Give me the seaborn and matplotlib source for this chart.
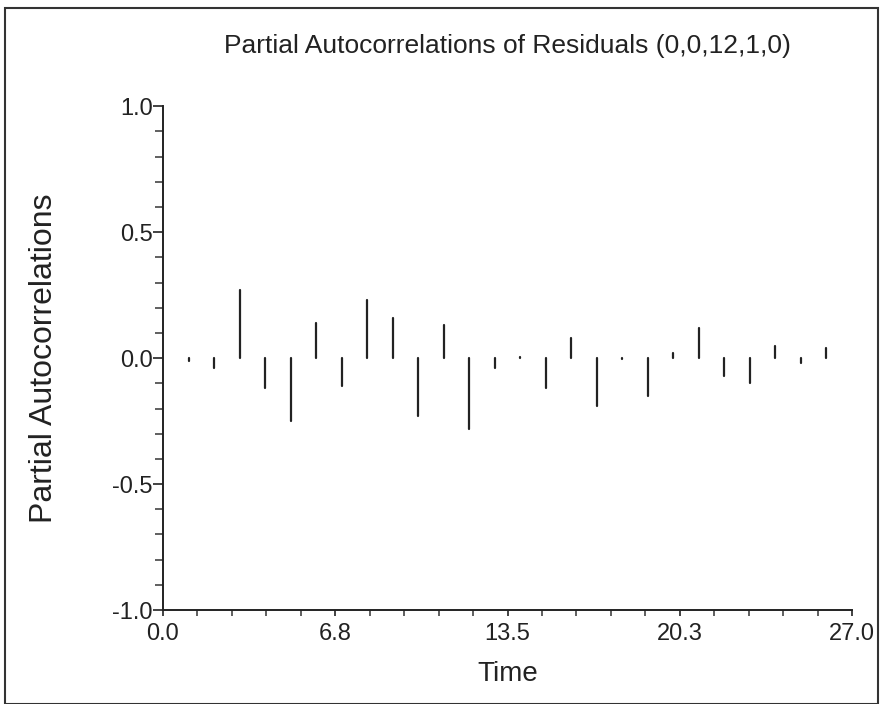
import numpy as np
import pandas as pd
import matplotlib
matplotlib.use("Agg")
import matplotlib.pyplot as plt
import seaborn as sns
from matplotlib.ticker import MultipleLocator, FixedLocator, FixedFormatter
from matplotlib.patches import Rectangle

# Data
lags = list(range(1, 27))
pacf = [-0.01, -0.04, 0.27, -0.12, -0.25, 0.14, -0.11, 0.23, 0.16, -0.23,
        0.13, -0.28, -0.04, 0.005, -0.12, 0.08, -0.19, -0.005, -0.15, 0.02,
        0.12, -0.07, -0.10, 0.05, -0.02, 0.04]
x_ticks = [0.0, 6.75, 13.5, 20.25, 27.0]
x_tick_labels = ["0.0", "6.8", "13.5", "20.3", "27.0"]
y_ticks = [-1.0, -0.5, 0.0, 0.5, 1.0]
y_tick_labels = ["-1.0", "-0.5", "0.0", "0.5", "1.0"]
title = "Partial Autocorrelations of Residuals (0,0,12,1,0)"
xlabel = "Time"
ylabel = "Partial Autocorrelations"

# Long table for stems: each lag gives two points (0 and value)
rows = []
for l, v in zip(lags, pacf):
    rows.append({"lag": l, "val": 0.0, "unit": l})
    rows.append({"lag": l, "val": v, "unit": l})
df = pd.DataFrame(rows)

sns.set_theme(style="ticks")
plt.rcParams['font.family'] = ['Liberation Sans', 'DejaVu Sans']

fig = plt.figure(figsize=(8.82, 7.04), dpi=100)
ax = fig.add_axes([0.1848, 0.1335, 0.966 - 0.1848, 0.849 - 0.1335])

sns.lineplot(data=df, x="lag", y="val", units="unit", estimator=None,
             color="#222222", linewidth=1.6, ax=ax, legend=False)

ax.set_xlim(0, 27)
ax.set_ylim(-1, 1)
sns.despine(ax=ax)
for s in ("left", "bottom"):
    ax.spines[s].set_color("#222222")
    ax.spines[s].set_linewidth(1.4)

ax.yaxis.set_major_locator(FixedLocator(y_ticks))
ax.yaxis.set_major_formatter(FixedFormatter(y_tick_labels))
ax.yaxis.set_minor_locator(MultipleLocator(0.1))
ax.xaxis.set_major_locator(FixedLocator(x_ticks))
ax.xaxis.set_major_formatter(FixedFormatter(x_tick_labels))
ax.xaxis.set_minor_locator(MultipleLocator(1.35))

ax.tick_params(axis="y", which="major", direction="out", length=7, width=1.2,
               color="#222222", labelsize=17, pad=0.5, labelcolor="#222222")
ax.tick_params(axis="y", which="minor", direction="out", length=6, width=1.2,
               color="#444444")
ax.tick_params(axis="x", which="major", direction="out", length=4, width=1.2,
               color="#222222", labelsize=17, pad=5, labelcolor="#222222")
ax.tick_params(axis="x", which="minor", direction="out", length=4, width=1.2,
               color="#444444")

ax.set_xlabel(xlabel, fontsize=20, color="#222222", labelpad=12)
ax.set_ylabel(ylabel, fontsize=23, color="#222222", labelpad=38)
ax.grid(False)

fig.text(0.575, 0.934, title, ha="center", va="center", fontsize=19,
         color="#222222")

fig.patches.append(Rectangle((5 / 882, 0.0), 873 / 882, 1 - 8 / 704 - 0.0,
                             transform=fig.transFigure, fill=False,
                             edgecolor="#333333", linewidth=1.5))

fig.savefig("out.png", dpi=100, facecolor="white")
